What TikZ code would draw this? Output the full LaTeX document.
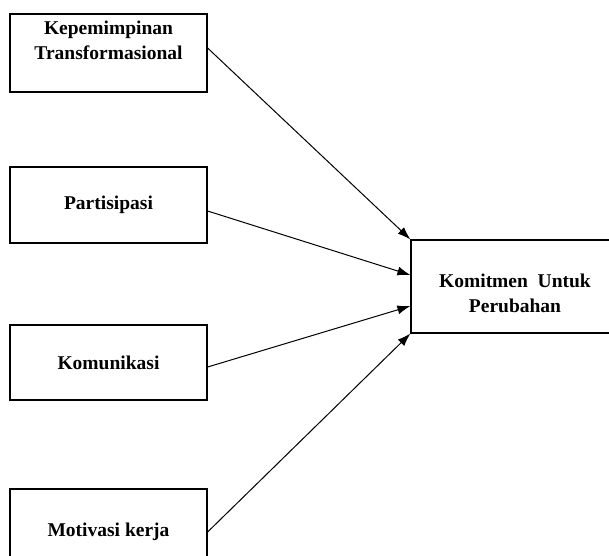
\documentclass[tikz,border=0pt]{standalone}
\usepackage{fontspec}
\setmainfont{Liberation Serif}
\usetikzlibrary{arrows.meta,positioning}
\tikzset{kotak/.style={draw,line width=1.2pt,inner sep=0pt},
 teks/.style={font=\bfseries\fontsize{19.5}{25}\selectfont,align=center},
 panah/.style={-{Latex[length=13pt,width=9pt]},line width=1pt}}

\begin{document}
\begin{tikzpicture}[x=1pt,y=-1pt]
  \useasboundingbox (0,0) rectangle (609,555);
  \clip (0,0) rectangle (609,555);

  \node[kotak, minimum width=197pt, minimum height=78pt] (kepemimpinan) at (108.5,53) {};
  \node[teks, inner sep=0pt, below=7pt of kepemimpinan.north] (judul) {Kepemimpinan\\Transformasional};

  \node[kotak, teks, minimum width=197pt, minimum height=76pt] (partisipasi) at (108.5,205) {Partisipasi};
  \node[kotak, teks, minimum width=197pt, minimum height=75pt] (komunikasi) at (108.5,362.5) {Komunikasi};
  \node[kotak, teks, minimum width=197pt, minimum height=86pt] (motivasi) at (108.5,532) {Motivasi kerja};

  \node[kotak, minimum width=208pt, minimum height=93pt] (komitmen) at (515,286.5) {};
  \node[teks, inner sep=0pt] (hasil) at ([yshift=-7pt]komitmen.center) {Komitmen\ \ Untuk\\Perubahan};

  \draw[panah]
  ([yshift=5pt]kepemimpinan.east) -- (komitmen.north west);
  \draw[panah]
  ([yshift=-6pt]partisipasi.east) -- ([yshift=11.5pt]komitmen.west);
  \draw[panah]
  ([yshift=-4.5pt]komunikasi.east) -- ([yshift=-19.5pt]komitmen.west);
  \draw[panah]
  (motivasi.east) -- (komitmen.south west);

\end{tikzpicture}
\end{document}
